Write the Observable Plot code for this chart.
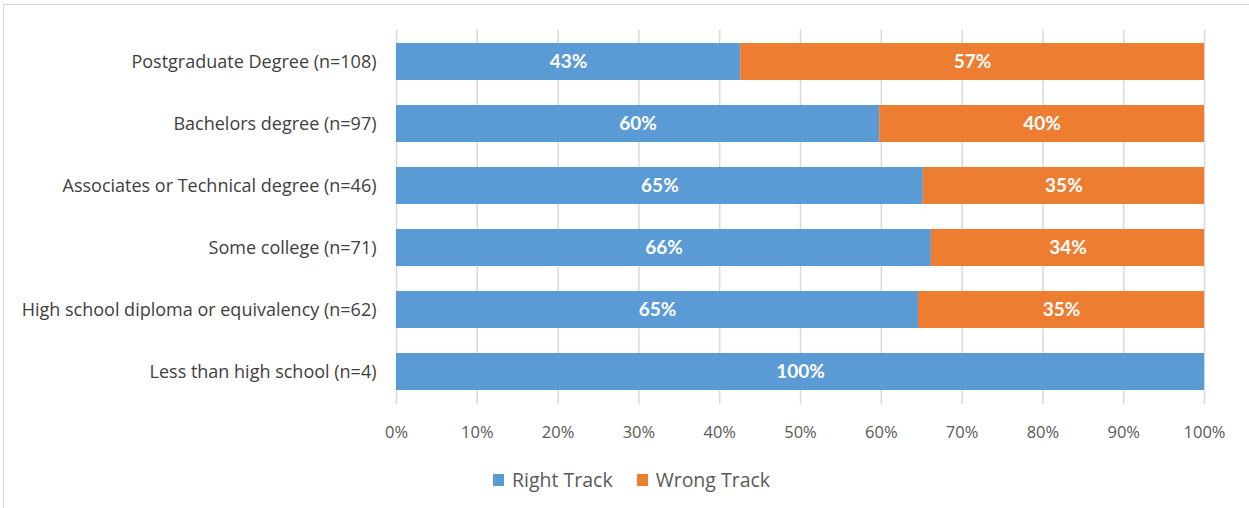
<!DOCTYPE html>
<html>
<head>
<meta charset="utf-8">
<script src="https://cdn.jsdelivr.net/npm/d3@7"></script>
<script src="https://cdn.jsdelivr.net/npm/@observablehq/plot@0.6"></script>
<style>
  html, body { margin: 0; padding: 0; background: #fff; }
  #wrap { position: relative; width: 1249px; height: 508px; overflow: hidden; }
  #frame { position: absolute; left: 3px; top: 4px; width: 1300px; height: 600px; border-left: 1px solid #d9d9d9; border-top: 1px solid #d9d9d9; }
  #chart { position: absolute; left: 0; top: 0; }
  #legend { position: absolute; top: 466px; left: 493px; display: flex; gap: 24px; font-family: "Open Sans", sans-serif; font-size: 19.5px; color: #595959; }
  .item { display: flex; align-items: center; gap: 8px; }
  .sw { display: inline-block; width: 11px; height: 12px; }
</style>
</head>
<body>
<div id="wrap">
  <div id="frame"></div>
  <div id="chart"></div>
  <div id="legend"></div>
</div>
<script>
const categories = [
  "Postgraduate Degree (n=108)",
  "Bachelors degree (n=97)",
  "Associates or Technical degree (n=46)",
  "Some college (n=71)",
  "High school diploma or equivalency (n=62)",
  "Less than high school (n=4)"
];
const rightTrack = [42.6, 59.8, 65.2, 66.2, 64.6, 100];
const wrongTrack = [57.4, 40.2, 34.8, 33.8, 35.4, 0];
const seriesNames = ["Right Track", "Wrong Track"];
const seriesColors = ["#5B9BD5", "#ED7D31"];
const xTicks = [0, 10, 20, 30, 40, 50, 60, 70, 80, 90, 100];

const rows = [];
categories.forEach((c, i) => {
  rows.push({category: c, series: seriesNames[0], value: rightTrack[i], order: 0});
  rows.push({category: c, series: seriesNames[1], value: wrongTrack[i], order: 1});
});

const chart = Plot.plot({
  width: 1249,
  height: 508,
  marginTop: 29.5,
  marginBottom: 104,
  marginLeft: 396,
  marginRight: 45,
  style: {fontFamily: "'Open Sans', sans-serif", background: "transparent"},
  x: {domain: [0, 100], axis: null},
  y: {domain: categories, paddingInner: 0.4, paddingOuter: 0.2, axis: null},
  color: {domain: seriesNames, range: seriesColors},
  marks: [
    Plot.ruleX(xTicks, {x: d => d, stroke: "#d9d9d9", strokeWidth: 1.5}),
    Plot.barX(rows, Plot.stackX({x: "value", y: "category", fill: "series", order: "order", inset: 0})),
    Plot.textX(rows.filter(d => d.value > 0), Plot.stackX({
      x: "value", y: "category", order: "order",
      text: d => Math.round(d.value) + "%",
      fill: "white", fontWeight: "bold", fontSize: 19, fontFamily: "Lato, sans-serif"
    })),
    Plot.axisY({tickSize: 0, tickPadding: 20, fontSize: 18, color: "#404040", label: null}),
    Plot.axisX(xTicks, {tickSize: 0, tickPadding: 22, tickFormat: d => d + "%", fontSize: 16.5, color: "#595959", label: null})
  ]
});
document.getElementById("chart").appendChild(chart);

const legend = document.getElementById("legend");
seriesNames.forEach((s, i) => {
  const it = document.createElement("div");
  it.className = "item";
  const sw = document.createElement("span");
  sw.className = "sw";
  sw.style.background = seriesColors[i];
  const t = document.createElement("span");
  t.textContent = s;
  it.appendChild(sw); it.appendChild(t);
  legend.appendChild(it);
});
</script>
</body>
</html>
